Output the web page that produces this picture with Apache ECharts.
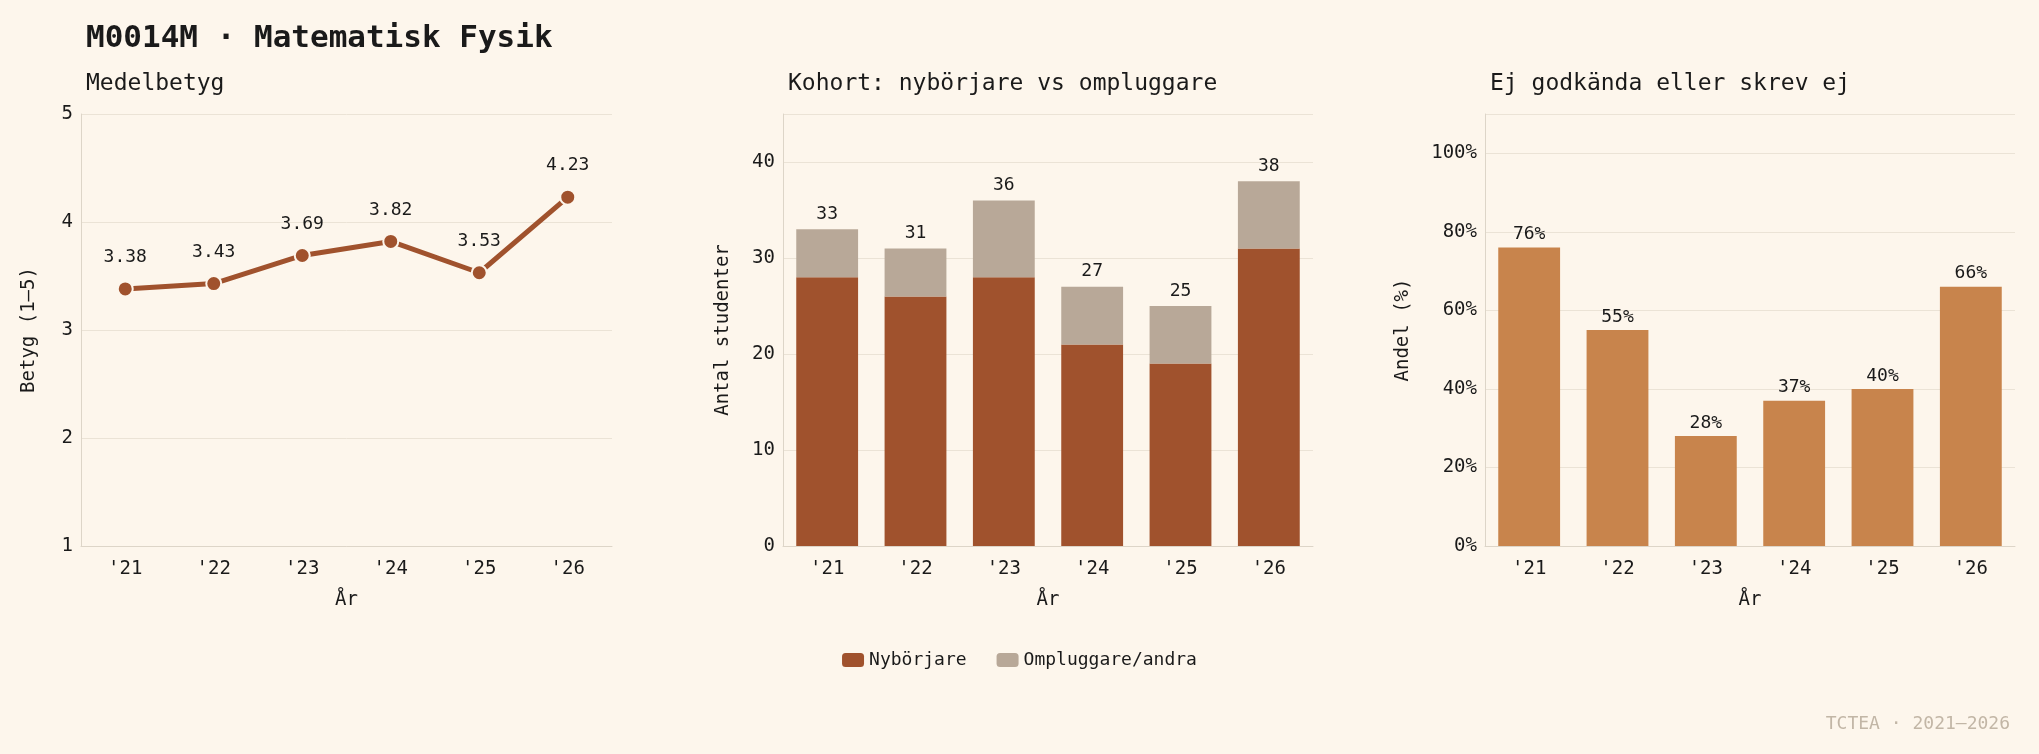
<!DOCTYPE html>
<html><head><meta charset="utf-8">
<script src="https://cdn.jsdelivr.net/npm/echarts@6/dist/echarts.min.js"></script>
<style>html,body{margin:0;background:#fdf6ec}#c{width:2039px;height:754px}</style>
</head><body><div id="c"></div>
<script>
var years = ["'21", "'22", "'23", "'24", "'25", "'26"]
var medel = [3.38, 3.43, 3.69, 3.82, 3.53, 4.23]
var nyborjare = [28, 26, 28, 21, 19, 31]
var omplugg = [5, 5, 8, 6, 6, 7]
var totals = [33, 31, 36, 27, 25, 38]
var ejGodk = [76, 55, 28, 37, 40, 66]

var font = 'DejaVu Sans Mono'
var txt = '#1a1a1a'
var grid = '#ebe3d6'
var chart = echarts.init(document.getElementById('c'))

function xAxis(i) {
    return {
        type: 'category', gridIndex: i, data: years, name: 'År', nameLocation: 'middle', nameGap: 45,
        nameTextStyle: {fontFamily: font, fontSize: 19, color: txt},
        axisLine: {lineStyle: {color: '#ddd5c8'}}, axisTick: {show: false},
        axisLabel: {fontFamily: font, fontSize: 19, color: txt, margin: 14}
    }
}
function yAxis(i, opt) {
    return Object.assign({
        type: 'value', gridIndex: i, nameLocation: 'middle', nameGap: 50,
        nameTextStyle: {fontFamily: font, fontSize: 19, color: txt},
        axisLine: {show: true, lineStyle: {color: '#ddd5c8'}}, axisTick: {show: false},
        splitLine: {lineStyle: {color: grid}}
    }, opt)
}

var option = {
    backgroundColor: '#fdf6ec',
    title: [
        {text: 'M0014M · Matematisk Fysik', left: 81, top: 18, textStyle: {fontFamily: font, fontSize: 31, fontWeight: 'bold', color: txt}},
        {text: 'Medelbetyg', left: 81, top: 68, textStyle: {fontFamily: font, fontSize: 23, fontWeight: 'normal', color: txt}},
        {text: 'Kohort: nybörjare vs ompluggare', left: 783, top: 68, textStyle: {fontFamily: font, fontSize: 23, fontWeight: 'normal', color: txt}},
        {text: 'Ej godkända eller skrev ej', left: 1485, top: 68, textStyle: {fontFamily: font, fontSize: 23, fontWeight: 'normal', color: txt}},
        {text: 'TCTEA · 2021–2026', right: 24, top: 710, textStyle: {fontFamily: font, fontSize: 18, fontWeight: 'normal', color: '#c2b6a6'}}
    ],
    legend: {
        bottom: 80, left: 'center', itemWidth: 22, itemHeight: 14, itemGap: 30,
        textStyle: {fontFamily: font, fontSize: 18, color: txt},
        data: ['Nybörjare', 'Ompluggare/andra']
    },
    grid: [
        {left: 81, width: 531, top: 114, height: 432},
        {left: 783, width: 530, top: 114, height: 432},
        {left: 1485, width: 530, top: 114, height: 432}
    ],
    xAxis: [xAxis(0), xAxis(1), xAxis(2)],
    yAxis: [
        yAxis(0, {min: 1, max: 5, interval: 1, name: 'Betyg (1–5)', nameGap: 42,
            axisLabel: {fontFamily: font, fontSize: 19, color: txt}}),
        yAxis(1, {min: 0, max: 45, interval: 10, name: 'Antal studenter',
            axisLabel: {fontFamily: font, fontSize: 19, color: txt, formatter: function (v) { return v % 10 ? '' : v }}}),
        yAxis(2, {min: 0, max: 110, interval: 20, name: 'Andel (%)', nameGap: 72,
            axisLabel: {fontFamily: font, fontSize: 19, color: txt, formatter: function (v) { return v % 20 ? '' : v + '%' }}})
    ],
    series: [
        {
            type: 'line', xAxisIndex: 0, yAxisIndex: 0, data: medel,
            symbol: 'circle', symbolSize: 15,
            lineStyle: {color: '#a0522d', width: 5},
            itemStyle: {color: '#a0522d', borderColor: '#fdf6ec', borderWidth: 2},
            label: {show: true, position: 'top', distance: 14, fontFamily: font, fontSize: 18, color: txt,
                formatter: function (p) { return p.value.toFixed(2) }}
        },
        {
            name: 'Nybörjare', type: 'bar', stack: 'k', xAxisIndex: 1, yAxisIndex: 1, data: nyborjare,
            barWidth: '70%', itemStyle: {color: '#a0522d'}
        },
        {
            name: 'Ompluggare/andra', type: 'bar', stack: 'k', xAxisIndex: 1, yAxisIndex: 1, data: omplugg,
            barWidth: '70%', itemStyle: {color: '#b8a898'},
            label: {show: true, position: 'top', distance: 6, fontFamily: font, fontSize: 18, color: txt,
                formatter: function (p) { return totals[p.dataIndex] }}
        },
        {
            type: 'bar', xAxisIndex: 2, yAxisIndex: 2, data: ejGodk,
            barWidth: '70%', itemStyle: {color: '#c8844c'},
            label: {show: true, position: 'top', distance: 4, fontFamily: font, fontSize: 18, color: txt,
                formatter: '{c}%'}
        }
    ]
}
chart.setOption(option)
</script></body></html>
